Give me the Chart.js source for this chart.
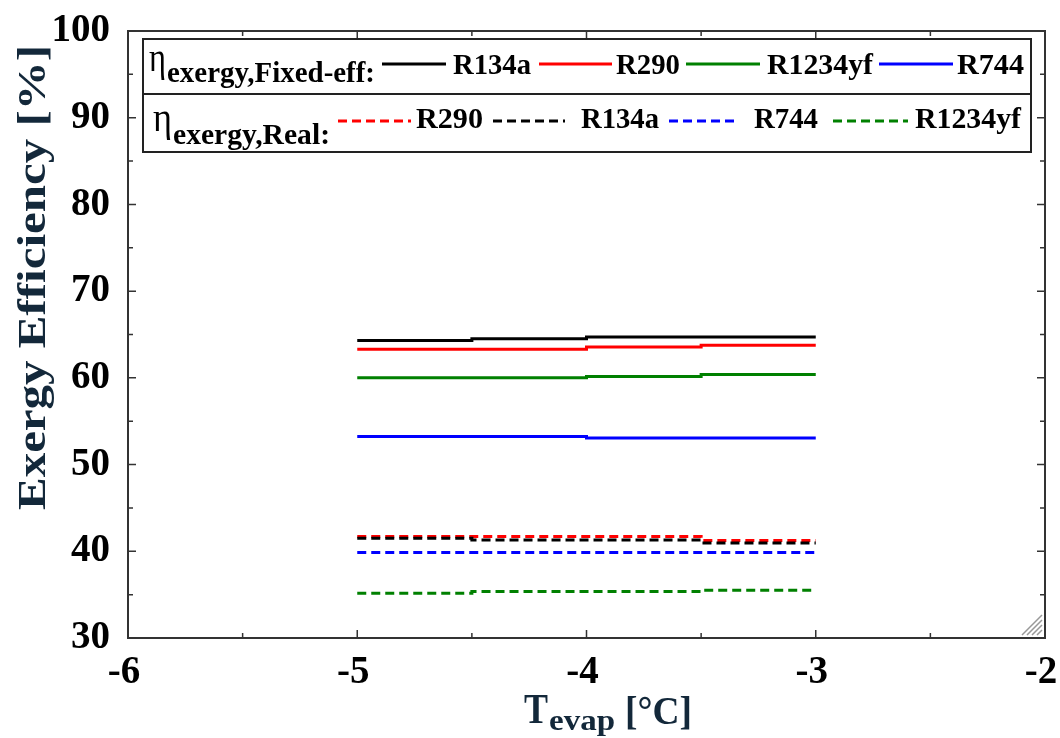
<!DOCTYPE html>
<html>
<head>
<meta charset="utf-8">
<script src="https://cdn.jsdelivr.net/npm/chart.js@4.4.1/dist/chart.umd.min.js"></script>
<style>
  html, body { margin: 0; padding: 0; background: #fff; }
  #wrap { width: 1060px; height: 738px; position: relative; }
</style>
</head>
<body>
<div id="wrap"><canvas id="chart" width="1060" height="738"></canvas></div>
<script>
// Evaporator temperature [°C]
const tEvap = [-5, -4.5, -4, -3.5, -3];

// Exergy efficiency with fixed component efficiencies [%]
const fixedR134a = [64.3, 64.5, 64.7, 64.7, 64.7];
const fixedR290 = [63.3, 63.3, 63.55, 63.75, 63.75];
const fixedR1234yf = [60.0, 60.0, 60.15, 60.4, 60.4];
const fixedR744 = [53.25, 53.25, 53.05, 53.05, 53.05];

// Exergy efficiency, real components [%]
const realR290 = [41.7, 41.7, 41.7, 41.25, 41.25];
const realR134a = [41.5, 41.3, 41.3, 40.95, 40.95];
const realR744 = [39.85, 39.85, 39.85, 39.85, 39.85];
const realR1234yf = [35.15, 35.35, 35.35, 35.5, 35.5];

// Axis ticks
const xTicks = [-6, -5, -4, -3, -2];
const yTicks = [30, 40, 50, 60, 70, 80, 90, 100];

const SERIF = '"Liberation Serif", "Times New Roman", serif';

function pts(values) {
    return tEvap.map((x, i) => ({ x: x, y: values[i] }));
}

function line(label, values, color, dashed) {
    return {
        label: label,
        data: pts(values),
        borderColor: color,
        backgroundColor: color,
        borderWidth: 3,
        borderDash: dashed ? [9, 5] : [],
        borderCapStyle: 'butt',
        stepped: true,
        pointRadius: 0,
        fill: false
    };
}

// draw text squeezed/stretched to a given width
function fitText(ctx, text, x, baseline, width, font, color, sy) {
    ctx.save();
    ctx.font = font;
    ctx.fillStyle = color;
    ctx.textAlign = 'left';
    ctx.textBaseline = 'alphabetic';
    const w = ctx.measureText(text).width;
    ctx.translate(x, baseline);
    ctx.scale(width / w, sy || 1);
    ctx.fillText(text, 0, 0);
    ctx.restore();
}

function legendLine(ctx, x1, x2, y, color, dashed) {
    ctx.save();
    ctx.strokeStyle = color;
    ctx.lineWidth = 3;
    ctx.setLineDash(dashed ? [9, 5] : []);
    ctx.beginPath();
    ctx.moveTo(x1, y);
    ctx.lineTo(x2, y);
    ctx.stroke();
    ctx.restore();
}

// frame, inward ticks, titles and the legend box
const decorations = {
    id: 'decorations',
    afterDraw(chart) {
        const ctx = chart.ctx;
        const a = chart.chartArea;
        const xs = chart.scales.x;
        const ys = chart.scales.y;

        ctx.save();
        ctx.strokeStyle = '#333';
        ctx.lineWidth = 2;
        ctx.strokeRect(a.left, a.top, a.right - a.left, a.bottom - a.top);

        ctx.lineWidth = 1.5;
        ctx.beginPath();
        for (let v = -6; v <= -2.001; v += 0.5) {
            const px = xs.getPixelForValue(v);
            const len = Number.isInteger(v) ? 8 : 5;
            ctx.moveTo(px, a.bottom); ctx.lineTo(px, a.bottom - len);
            ctx.moveTo(px, a.top); ctx.lineTo(px, a.top + len);
        }
        for (let v = 30; v <= 100; v += 5) {
            const py = ys.getPixelForValue(v);
            const len = v % 10 === 0 ? 8 : 5;
            ctx.moveTo(a.left, py); ctx.lineTo(a.left + len, py);
            ctx.moveTo(a.right, py); ctx.lineTo(a.right - len, py);
        }
        ctx.stroke();

        // resize grip in the corner
        ctx.strokeStyle = '#999';
        ctx.lineWidth = 1.5;
        ctx.beginPath();
        for (let d = 5; d <= 20; d += 5) {
            ctx.moveTo(a.right - 3 - d, a.bottom - 3);
            ctx.lineTo(a.right - 3, a.bottom - 3 - d);
        }
        ctx.stroke();
        ctx.restore();

        // y title
        ctx.save();
        ctx.translate(45, 510);
        ctx.rotate(-Math.PI / 2);
        fitText(ctx, 'Exergy Efficiency [%]', 0, 0, 465, 'bold 40px ' + SERIF, '#13283a');
        ctx.restore();

        // x title
        fitText(ctx, 'T', 524, 723, 24, 'bold 42px ' + SERIF, '#13283a');
        fitText(ctx, 'evap', 549, 730, 66, 'bold 30px ' + SERIF, '#13283a');
        fitText(ctx, '[°C]', 625, 724, 67, 'bold 40px ' + SERIF, '#13283a');

        // legend box
        ctx.save();
        ctx.fillStyle = '#fff';
        ctx.fillRect(143, 39, 888, 113);
        ctx.strokeStyle = '#222';
        ctx.lineWidth = 2;
        ctx.strokeRect(143, 39, 888, 113);
        ctx.beginPath();
        ctx.moveTo(143, 94); ctx.lineTo(1031, 94);
        ctx.stroke();
        ctx.restore();

        const lf = 'bold 27px ' + SERIF;
        // row 1
        fitText(ctx, 'η', 149, 71, 17, '40px ' + SERIF, '#000');
        fitText(ctx, 'exergy,Fixed-eff:', 167, 82, 208, lf, '#000', 1.12);
        legendLine(ctx, 382, 446, 64, '#000', false);
        fitText(ctx, 'R134a', 453, 74, 78, lf, '#000', 1.1);
        legendLine(ctx, 539, 612, 64, '#ff0000', false);
        fitText(ctx, 'R290', 616, 74, 64, lf, '#000', 1.1);
        legendLine(ctx, 686, 760, 64, '#008000', false);
        fitText(ctx, 'R1234yf', 767, 74, 106, lf, '#000', 1.1);
        legendLine(ctx, 879, 953, 64, '#0000ff', false);
        fitText(ctx, 'R744', 957, 74, 67, lf, '#000', 1.1);
        // row 2
        fitText(ctx, 'η', 153, 131, 19, '40px ' + SERIF, '#000');
        fitText(ctx, 'exergy,Real:', 173, 144, 157, lf, '#000', 1.12);
        legendLine(ctx, 338, 411, 121, '#ff0000', true);
        fitText(ctx, 'R290', 416, 128, 67, lf, '#000', 1.1);
        legendLine(ctx, 493, 565, 121, '#000', true);
        fitText(ctx, 'R134a', 581, 128, 78, lf, '#000', 1.1);
        legendLine(ctx, 669, 739, 121, '#0000ff', true);
        fitText(ctx, 'R744', 754, 128, 64, lf, '#000', 1.1);
        legendLine(ctx, 833, 908, 121, '#008000', true);
        fitText(ctx, 'R1234yf', 915, 128, 106, lf, '#000', 1.1);
    }
};

const ctx = document.getElementById('chart').getContext('2d');
const chart = new Chart(ctx, {
    type: 'line',
    data: {
        datasets: [
            line('R134a (fixed-eff)', fixedR134a, '#000000', false),
            line('R290 (fixed-eff)', fixedR290, '#ff0000', false),
            line('R1234yf (fixed-eff)', fixedR1234yf, '#008000', false),
            line('R744 (fixed-eff)', fixedR744, '#0000ff', false),
            line('R134a (real)', realR134a, '#000000', true),
            line('R290 (real)', realR290, '#ff0000', true),
            line('R744 (real)', realR744, '#0000ff', true),
            line('R1234yf (real)', realR1234yf, '#008000', true)
        ]
    },
    options: {
        responsive: false,
        animation: false,
        layout: { padding: { left: 0, top: 31, right: 15, bottom: 0 } },
        plugins: {
            legend: { display: false },
            tooltip: { enabled: false }
        },
        scales: {
            x: {
                type: 'linear',
                min: -6,
                max: -2,
                grid: { display: false },
                border: { display: false },
                afterBuildTicks: (scale) => { scale.ticks = xTicks.map(v => ({ value: v })); },
                afterFit: (scale) => {
                    scale.height = 100;
                    scale.paddingLeft = 0;
                    scale.paddingRight = 0;
                },
                ticks: {
                    color: '#000',
                    padding: 4,
                    labelOffset: -4,
                    maxRotation: 0,
                    font: { family: SERIF, size: 39, weight: 'bold' }
                }
            },
            y: {
                min: 30,
                max: 100,
                grid: { display: false },
                border: { display: false },
                afterBuildTicks: (scale) => { scale.ticks = yTicks.map(v => ({ value: v })); },
                afterFit: (scale) => {
                    scale.width = 128;
                    scale.paddingTop = 0;
                    scale.paddingBottom = 0;
                },
                ticks: {
                    color: '#000',
                    padding: 10,
                    font: { family: SERIF, size: 39, weight: 'bold' }
                }
            }
        }
    },
    plugins: [decorations]
});
</script>
</body>
</html>
